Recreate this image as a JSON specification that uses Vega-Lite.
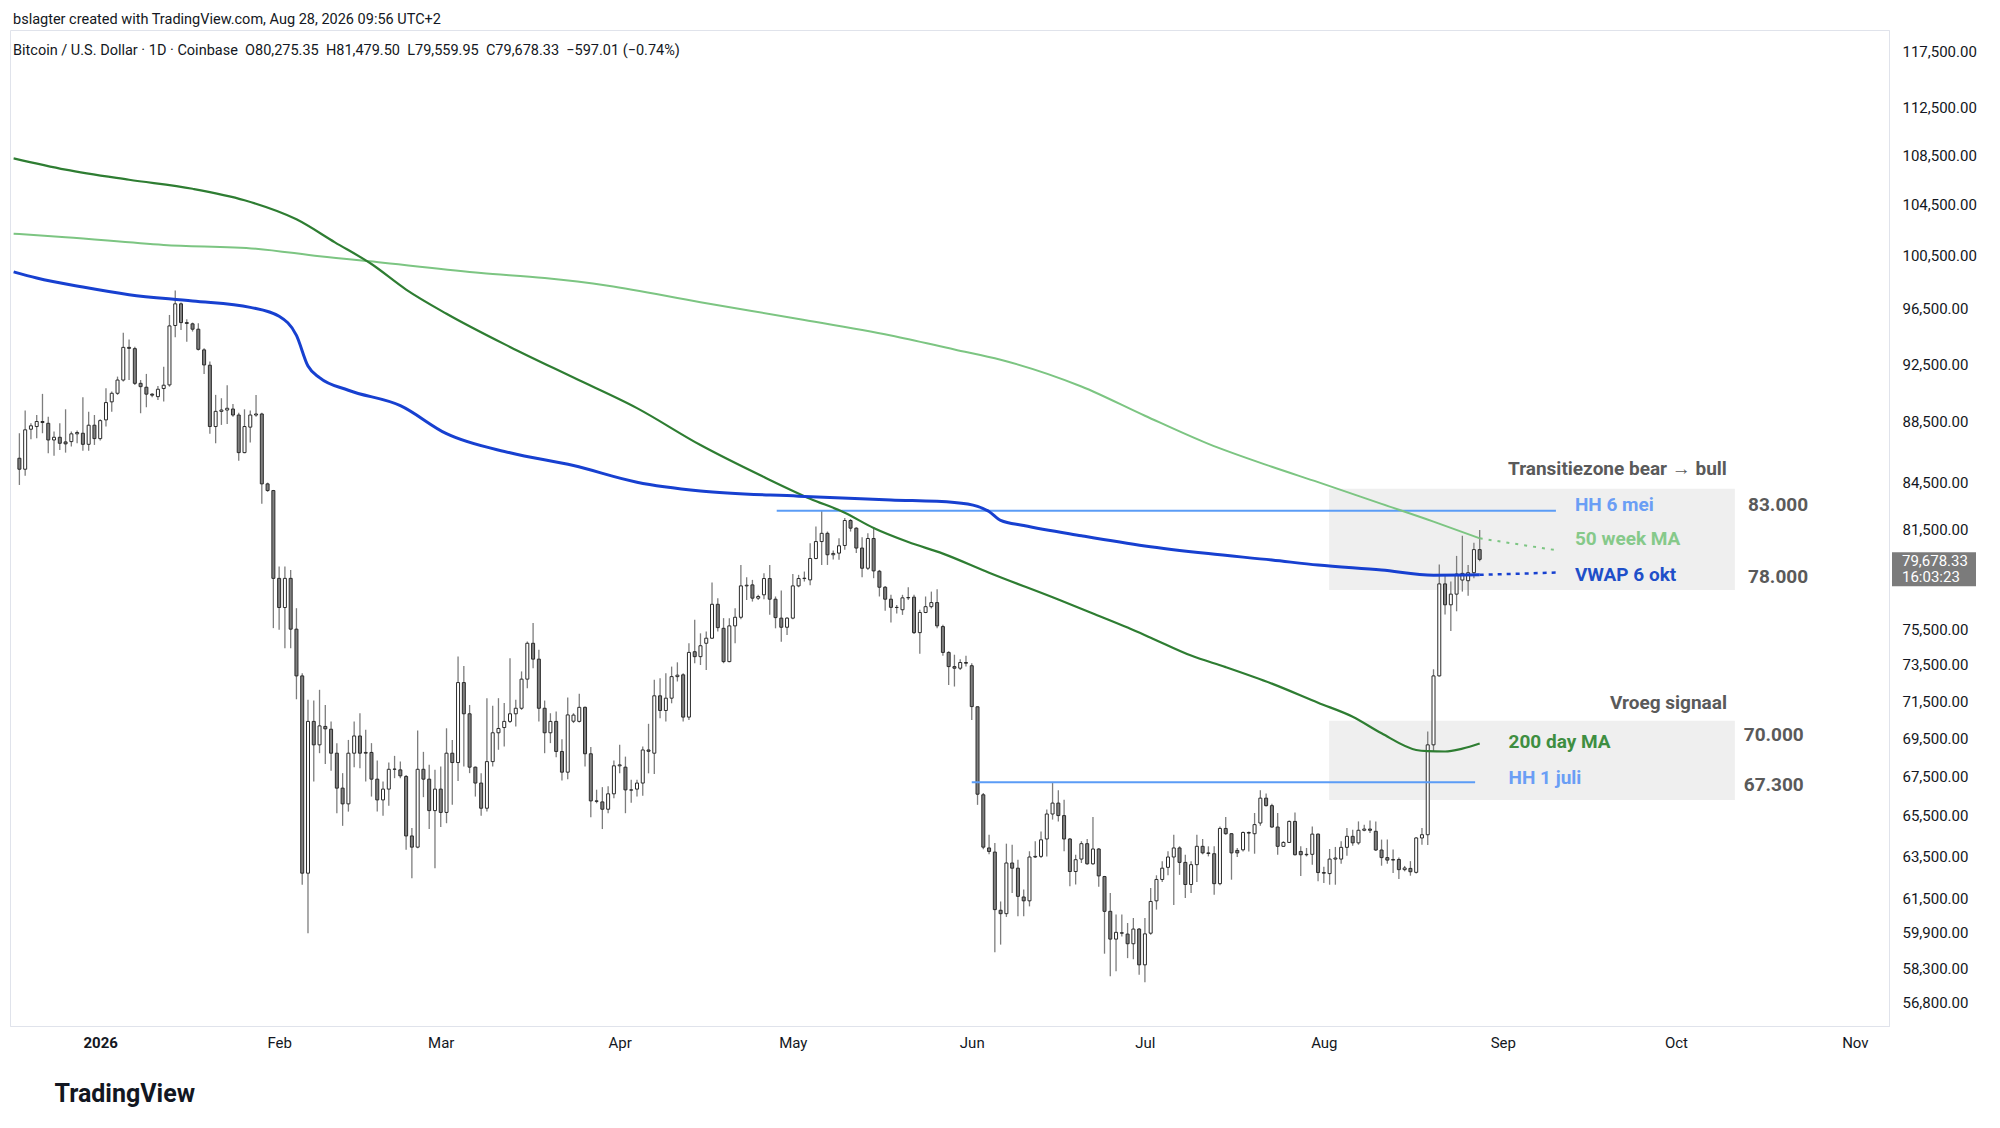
{
  "$schema": "https://vega.github.io/schema/vega-lite/v6.json",
  "description": "Bitcoin / U.S. Dollar daily candles with 200 day MA, 50 week MA, VWAP and annotated zones",
  "width": 1879,
  "height": 996,
  "autosize": {"type": "none"},
  "padding": {"left": 10, "top": 30, "right": 111, "bottom": 102},
  "background": "white",
  "title": {
    "text": "bslagter created with TradingView.com, Aug 28, 2026 09:56 UTC+2",
    "subtitle": "\u00a0\u00a0Bitcoin / U.S. Dollar · 1D · Coinbase\u00a0\u00a0O80,275.35\u00a0\u00a0H81,479.50\u00a0\u00a0L79,559.95\u00a0\u00a0C79,678.33\u00a0\u00a0−597.01 (−0.74%)",
    "anchor": "start",
    "frame": "group",
    "offset": -28,
    "dx": 3,
    "font": "Roboto",
    "fontSize": 14.5,
    "fontWeight": "normal",
    "color": "#131722",
    "subtitleFont": "Roboto",
    "subtitleFontSize": 14.5,
    "subtitleColor": "#131722",
    "subtitlePadding": 16
  },
  "datasets": {
    "candles": [
      {"date": "2025-12-18", "open": 86080, "high": 87740, "low": 84340, "close": 85360},
      {"date": "2025-12-19", "open": 85360, "high": 89270, "low": 84930, "close": 87970},
      {"date": "2025-12-20", "open": 88010, "high": 88410, "low": 87340, "close": 88240},
      {"date": "2025-12-21", "open": 88190, "high": 88970, "low": 87410, "close": 88530},
      {"date": "2025-12-22", "open": 88530, "high": 90420, "low": 87740, "close": 88460},
      {"date": "2025-12-23", "open": 88410, "high": 88860, "low": 86410, "close": 87290},
      {"date": "2025-12-24", "open": 87290, "high": 87850, "low": 86240, "close": 87470},
      {"date": "2025-12-25", "open": 87470, "high": 88410, "low": 86620, "close": 87070},
      {"date": "2025-12-26", "open": 87160, "high": 89360, "low": 86450, "close": 87030},
      {"date": "2025-12-27", "open": 87180, "high": 87850, "low": 86850, "close": 87700},
      {"date": "2025-12-28", "open": 87700, "high": 87920, "low": 87070, "close": 87790},
      {"date": "2025-12-29", "open": 87740, "high": 90190, "low": 86580, "close": 87000},
      {"date": "2025-12-30", "open": 87000, "high": 89200, "low": 86580, "close": 88280},
      {"date": "2025-12-31", "open": 88280, "high": 88970, "low": 86960, "close": 87380},
      {"date": "2026-01-01", "open": 87380, "high": 88680, "low": 87250, "close": 88590},
      {"date": "2026-01-02", "open": 88640, "high": 90810, "low": 88190, "close": 89820},
      {"date": "2026-01-03", "open": 89870, "high": 90580, "low": 89200, "close": 90460},
      {"date": "2026-01-04", "open": 90460, "high": 91620, "low": 90350, "close": 91380},
      {"date": "2026-01-05", "open": 91380, "high": 94750, "low": 91270, "close": 93690},
      {"date": "2026-01-06", "open": 93690, "high": 94260, "low": 91380, "close": 93620},
      {"date": "2026-01-07", "open": 93600, "high": 93740, "low": 91040, "close": 91150},
      {"date": "2026-01-08", "open": 91150, "high": 91380, "low": 89090, "close": 90920},
      {"date": "2026-01-09", "open": 90880, "high": 91810, "low": 89500, "close": 90400},
      {"date": "2026-01-10", "open": 90400, "high": 90460, "low": 90190, "close": 90330},
      {"date": "2026-01-11", "open": 90230, "high": 90970, "low": 90000, "close": 90740},
      {"date": "2026-01-12", "open": 90790, "high": 92320, "low": 89890, "close": 91020},
      {"date": "2026-01-13", "open": 91040, "high": 96040, "low": 90920, "close": 95240},
      {"date": "2026-01-14", "open": 95270, "high": 97850, "low": 94420, "close": 96860},
      {"date": "2026-01-15", "open": 96860, "high": 96950, "low": 94950, "close": 95480},
      {"date": "2026-01-16", "open": 95480, "high": 95730, "low": 94100, "close": 95420},
      {"date": "2026-01-17", "open": 95390, "high": 95480, "low": 94830, "close": 95000},
      {"date": "2026-01-18", "open": 95000, "high": 95430, "low": 93460, "close": 93550},
      {"date": "2026-01-19", "open": 93510, "high": 93620, "low": 91810, "close": 92440},
      {"date": "2026-01-20", "open": 92420, "high": 92680, "low": 87700, "close": 88190},
      {"date": "2026-01-21", "open": 88190, "high": 90350, "low": 87070, "close": 89220},
      {"date": "2026-01-22", "open": 89220, "high": 90120, "low": 88300, "close": 89310},
      {"date": "2026-01-23", "open": 89310, "high": 91020, "low": 88370, "close": 89430},
      {"date": "2026-01-24", "open": 89380, "high": 89730, "low": 88860, "close": 88970},
      {"date": "2026-01-25", "open": 88970, "high": 89130, "low": 85910, "close": 86450},
      {"date": "2026-01-26", "open": 86450, "high": 89360, "low": 86410, "close": 88190},
      {"date": "2026-01-27", "open": 88150, "high": 89270, "low": 87120, "close": 88970},
      {"date": "2026-01-28", "open": 88970, "high": 90350, "low": 88860, "close": 89040},
      {"date": "2026-01-29", "open": 89040, "high": 89130, "low": 83130, "close": 84410},
      {"date": "2026-01-30", "open": 84410, "high": 84490, "low": 83900, "close": 83980},
      {"date": "2026-01-31", "open": 83980, "high": 84020, "low": 75600, "close": 78530},
      {"date": "2026-02-01", "open": 78530, "high": 79240, "low": 75500, "close": 76800},
      {"date": "2026-02-02", "open": 76800, "high": 79240, "low": 74440, "close": 78530},
      {"date": "2026-02-03", "open": 78530, "high": 79040, "low": 74440, "close": 75540},
      {"date": "2026-02-04", "open": 75540, "high": 76760, "low": 71600, "close": 72890},
      {"date": "2026-02-05", "open": 72890, "high": 73040, "low": 62140, "close": 62690},
      {"date": "2026-02-06", "open": 62690, "high": 71570, "low": 59880, "close": 70400},
      {"date": "2026-02-07", "open": 70400, "high": 71530, "low": 67240, "close": 69150},
      {"date": "2026-02-08", "open": 69150, "high": 72120, "low": 68710, "close": 70160},
      {"date": "2026-02-09", "open": 70130, "high": 71290, "low": 68150, "close": 70000},
      {"date": "2026-02-10", "open": 69980, "high": 70400, "low": 67800, "close": 68710},
      {"date": "2026-02-11", "open": 68710, "high": 69240, "low": 65630, "close": 66900},
      {"date": "2026-02-12", "open": 66900, "high": 67670, "low": 65000, "close": 66100},
      {"date": "2026-02-13", "open": 66100, "high": 69410, "low": 65710, "close": 68710},
      {"date": "2026-02-14", "open": 68710, "high": 70400, "low": 67980, "close": 69620},
      {"date": "2026-02-15", "open": 69620, "high": 70840, "low": 67930, "close": 68710},
      {"date": "2026-02-16", "open": 68710, "high": 69950, "low": 67240, "close": 68750},
      {"date": "2026-02-17", "open": 68750, "high": 69240, "low": 66470, "close": 67360},
      {"date": "2026-02-18", "open": 67360, "high": 68330, "low": 65710, "close": 66300},
      {"date": "2026-02-19", "open": 66300, "high": 67240, "low": 65500, "close": 66850},
      {"date": "2026-02-20", "open": 66850, "high": 68220, "low": 66000, "close": 67870},
      {"date": "2026-02-21", "open": 67870, "high": 68570, "low": 67410, "close": 67880},
      {"date": "2026-02-22", "open": 67840, "high": 68270, "low": 67410, "close": 67530},
      {"date": "2026-02-23", "open": 67500, "high": 67580, "low": 63820, "close": 64500},
      {"date": "2026-02-24", "open": 64500, "high": 64890, "low": 62450, "close": 63950},
      {"date": "2026-02-25", "open": 63950, "high": 69910, "low": 63900, "close": 67870},
      {"date": "2026-02-26", "open": 67870, "high": 68780, "low": 66440, "close": 67360},
      {"date": "2026-02-27", "open": 67360, "high": 68100, "low": 64840, "close": 65760},
      {"date": "2026-02-28", "open": 65760, "high": 67840, "low": 62930, "close": 66850},
      {"date": "2026-03-01", "open": 66850, "high": 68010, "low": 64940, "close": 65670},
      {"date": "2026-03-02", "open": 65670, "high": 70030, "low": 65130, "close": 68710},
      {"date": "2026-03-03", "open": 68710, "high": 69410, "low": 66050, "close": 68220},
      {"date": "2026-03-04", "open": 68220, "high": 73980, "low": 67270, "close": 72520},
      {"date": "2026-03-05", "open": 72520, "high": 73450, "low": 68010, "close": 70810},
      {"date": "2026-03-06", "open": 70810, "high": 71290, "low": 67670, "close": 67980},
      {"date": "2026-03-07", "open": 67980, "high": 68010, "low": 66470, "close": 67160},
      {"date": "2026-03-08", "open": 67160, "high": 67670, "low": 65500, "close": 65880},
      {"date": "2026-03-09", "open": 65880, "high": 71660, "low": 65710, "close": 68270},
      {"date": "2026-03-10", "open": 68270, "high": 71240, "low": 68010, "close": 69790},
      {"date": "2026-03-11", "open": 69790, "high": 71660, "low": 68890, "close": 70020},
      {"date": "2026-03-12", "open": 70070, "high": 71390, "low": 69060, "close": 70400},
      {"date": "2026-03-13", "open": 70400, "high": 73880, "low": 70310, "close": 70810},
      {"date": "2026-03-14", "open": 70810, "high": 71570, "low": 70130, "close": 71110},
      {"date": "2026-03-15", "open": 71110, "high": 73140, "low": 71020, "close": 72710},
      {"date": "2026-03-16", "open": 72710, "high": 74830, "low": 72210, "close": 74730},
      {"date": "2026-03-17", "open": 74730, "high": 75890, "low": 73320, "close": 73830},
      {"date": "2026-03-18", "open": 73830, "high": 74360, "low": 70400, "close": 71110},
      {"date": "2026-03-19", "open": 71110, "high": 71530, "low": 68710, "close": 69790},
      {"date": "2026-03-20", "open": 69790, "high": 70840, "low": 69240, "close": 70400},
      {"date": "2026-03-21", "open": 70400, "high": 70930, "low": 68500, "close": 68800},
      {"date": "2026-03-22", "open": 68800, "high": 69440, "low": 67290, "close": 67720},
      {"date": "2026-03-23", "open": 67720, "high": 71700, "low": 67360, "close": 70750},
      {"date": "2026-03-24", "open": 70410, "high": 70840, "low": 70310, "close": 70740},
      {"date": "2026-03-25", "open": 70400, "high": 71900, "low": 70340, "close": 71160},
      {"date": "2026-03-26", "open": 71160, "high": 71200, "low": 68010, "close": 68680},
      {"date": "2026-03-27", "open": 68680, "high": 69030, "low": 65430, "close": 66250},
      {"date": "2026-03-28", "open": 66250, "high": 66820, "low": 66130, "close": 66230},
      {"date": "2026-03-29", "open": 66200, "high": 66950, "low": 64840, "close": 65830},
      {"date": "2026-03-30", "open": 65830, "high": 66990, "low": 65630, "close": 66610},
      {"date": "2026-03-31", "open": 66610, "high": 68330, "low": 66390, "close": 68050},
      {"date": "2026-04-01", "open": 68050, "high": 69150, "low": 67670, "close": 68100},
      {"date": "2026-04-02", "open": 67980, "high": 68530, "low": 65630, "close": 66810},
      {"date": "2026-04-03", "open": 66810, "high": 67330, "low": 66160, "close": 66800},
      {"date": "2026-04-04", "open": 66850, "high": 67330, "low": 66470, "close": 67160},
      {"date": "2026-04-05", "open": 67160, "high": 69060, "low": 66510, "close": 68880},
      {"date": "2026-04-06", "open": 68880, "high": 70270, "low": 67660, "close": 68810},
      {"date": "2026-04-07", "open": 68710, "high": 72670, "low": 67620, "close": 71790},
      {"date": "2026-04-08", "open": 71790, "high": 72760, "low": 70570, "close": 70990},
      {"date": "2026-04-09", "open": 70990, "high": 73040, "low": 70390, "close": 71660},
      {"date": "2026-04-10", "open": 71660, "high": 73410, "low": 71380, "close": 72850},
      {"date": "2026-04-11", "open": 72850, "high": 73650, "low": 72580, "close": 72930},
      {"date": "2026-04-12", "open": 72950, "high": 73040, "low": 70390, "close": 70630},
      {"date": "2026-04-13", "open": 70630, "high": 74730, "low": 70480, "close": 74210},
      {"date": "2026-04-14", "open": 74250, "high": 76080, "low": 73600, "close": 73970},
      {"date": "2026-04-15", "open": 73970, "high": 75300, "low": 73500, "close": 74590},
      {"date": "2026-04-16", "open": 74730, "high": 75400, "low": 73220, "close": 75020},
      {"date": "2026-04-17", "open": 75020, "high": 78280, "low": 74980, "close": 76990},
      {"date": "2026-04-18", "open": 76990, "high": 77350, "low": 75400, "close": 75630},
      {"date": "2026-04-19", "open": 75590, "high": 76180, "low": 73600, "close": 73690},
      {"date": "2026-04-20", "open": 73690, "high": 76180, "low": 73650, "close": 75730},
      {"date": "2026-04-21", "open": 75730, "high": 76760, "low": 74730, "close": 76230},
      {"date": "2026-04-22", "open": 76230, "high": 79340, "low": 76120, "close": 78080},
      {"date": "2026-04-23", "open": 78080, "high": 78600, "low": 77250, "close": 78120},
      {"date": "2026-04-24", "open": 78140, "high": 78440, "low": 77150, "close": 77350},
      {"date": "2026-04-25", "open": 77350, "high": 77550, "low": 77250, "close": 77450},
      {"date": "2026-04-26", "open": 77550, "high": 78840, "low": 77290, "close": 78520},
      {"date": "2026-04-27", "open": 78520, "high": 79340, "low": 76370, "close": 77290},
      {"date": "2026-04-28", "open": 77290, "high": 77450, "low": 75590, "close": 76210},
      {"date": "2026-04-29", "open": 76180, "high": 77800, "low": 74820, "close": 75650},
      {"date": "2026-04-30", "open": 75650, "high": 76230, "low": 75210, "close": 76180},
      {"date": "2026-05-01", "open": 76180, "high": 78800, "low": 76120, "close": 78080},
      {"date": "2026-05-02", "open": 78080, "high": 78740, "low": 78000, "close": 78520},
      {"date": "2026-05-03", "open": 78520, "high": 78940, "low": 78340, "close": 78540},
      {"date": "2026-05-04", "open": 78440, "high": 80670, "low": 78120, "close": 79730},
      {"date": "2026-05-05", "open": 79730, "high": 81700, "low": 79690, "close": 80770},
      {"date": "2026-05-06", "open": 80770, "high": 82700, "low": 79340, "close": 81280},
      {"date": "2026-05-07", "open": 81280, "high": 81390, "low": 79340, "close": 79960},
      {"date": "2026-05-08", "open": 79960, "high": 80220, "low": 79670, "close": 80040},
      {"date": "2026-05-09", "open": 80060, "high": 80980, "low": 79650, "close": 80510},
      {"date": "2026-05-10", "open": 80530, "high": 82230, "low": 80260, "close": 82080},
      {"date": "2026-05-11", "open": 82080, "high": 82170, "low": 81390, "close": 81600},
      {"date": "2026-05-12", "open": 81600, "high": 81660, "low": 80060, "close": 80370},
      {"date": "2026-05-13", "open": 80370, "high": 81040, "low": 78600, "close": 79140},
      {"date": "2026-05-14", "open": 79140, "high": 81280, "low": 79040, "close": 80960},
      {"date": "2026-05-15", "open": 80960, "high": 81660, "low": 78540, "close": 78980},
      {"date": "2026-05-16", "open": 78960, "high": 79040, "low": 77450, "close": 78000},
      {"date": "2026-05-17", "open": 78000, "high": 78080, "low": 76610, "close": 77290},
      {"date": "2026-05-18", "open": 77290, "high": 77550, "low": 75920, "close": 76810},
      {"date": "2026-05-19", "open": 76810, "high": 76950, "low": 76450, "close": 76800},
      {"date": "2026-05-20", "open": 76670, "high": 77550, "low": 76370, "close": 77370},
      {"date": "2026-05-21", "open": 77370, "high": 78000, "low": 77250, "close": 77390},
      {"date": "2026-05-22", "open": 77410, "high": 77550, "low": 75260, "close": 75340},
      {"date": "2026-05-23", "open": 75340, "high": 76670, "low": 74130, "close": 76510},
      {"date": "2026-05-24", "open": 76510, "high": 77450, "low": 76470, "close": 76850},
      {"date": "2026-05-25", "open": 76850, "high": 77740, "low": 76750, "close": 77090},
      {"date": "2026-05-26", "open": 77090, "high": 77880, "low": 75590, "close": 75730},
      {"date": "2026-05-27", "open": 75690, "high": 75790, "low": 74020, "close": 74210},
      {"date": "2026-05-28", "open": 74210, "high": 74270, "low": 72390, "close": 73410},
      {"date": "2026-05-29", "open": 73410, "high": 74080, "low": 72300, "close": 73320},
      {"date": "2026-05-30", "open": 73320, "high": 73830, "low": 73220, "close": 73640},
      {"date": "2026-05-31", "open": 73640, "high": 74020, "low": 73410, "close": 73600},
      {"date": "2026-06-01", "open": 73460, "high": 73600, "low": 70480, "close": 71200},
      {"date": "2026-06-02", "open": 71190, "high": 71210, "low": 66050, "close": 66590},
      {"date": "2026-06-03", "open": 66560, "high": 66650, "low": 63850, "close": 63950},
      {"date": "2026-06-04", "open": 63910, "high": 64560, "low": 63600, "close": 63740},
      {"date": "2026-06-05", "open": 63710, "high": 64150, "low": 59010, "close": 60970},
      {"date": "2026-06-06", "open": 60940, "high": 61350, "low": 59360, "close": 60780},
      {"date": "2026-06-07", "open": 60780, "high": 64120, "low": 60630, "close": 63180},
      {"date": "2026-06-08", "open": 63180, "high": 64070, "low": 61750, "close": 62930},
      {"date": "2026-06-09", "open": 62930, "high": 63340, "low": 60660, "close": 61590},
      {"date": "2026-06-10", "open": 61560, "high": 61910, "low": 60660, "close": 61380},
      {"date": "2026-06-11", "open": 61380, "high": 63750, "low": 61120, "close": 63470},
      {"date": "2026-06-12", "open": 63470, "high": 64240, "low": 63420, "close": 63500},
      {"date": "2026-06-13", "open": 63500, "high": 64720, "low": 63420, "close": 64310},
      {"date": "2026-06-14", "open": 64350, "high": 65810, "low": 63500, "close": 65590},
      {"date": "2026-06-15", "open": 65590, "high": 67200, "low": 65310, "close": 66140},
      {"date": "2026-06-16", "open": 66140, "high": 66790, "low": 65220, "close": 65510},
      {"date": "2026-06-17", "open": 65510, "high": 66310, "low": 63750, "close": 64350},
      {"date": "2026-06-18", "open": 64350, "high": 64400, "low": 62070, "close": 62770},
      {"date": "2026-06-19", "open": 62770, "high": 63580, "low": 62150, "close": 63340},
      {"date": "2026-06-20", "open": 63370, "high": 64240, "low": 63180, "close": 64120},
      {"date": "2026-06-21", "open": 64120, "high": 64350, "low": 63100, "close": 63140},
      {"date": "2026-06-22", "open": 63140, "high": 65440, "low": 63100, "close": 63860},
      {"date": "2026-06-23", "open": 63860, "high": 63910, "low": 62040, "close": 62560},
      {"date": "2026-06-24", "open": 62530, "high": 62560, "low": 58950, "close": 60890},
      {"date": "2026-06-25", "open": 60890, "high": 61750, "low": 57940, "close": 59610},
      {"date": "2026-06-26", "open": 59610, "high": 60740, "low": 58160, "close": 59920},
      {"date": "2026-06-27", "open": 59900, "high": 60740, "low": 59730, "close": 59880},
      {"date": "2026-06-28", "open": 59840, "high": 60350, "low": 58750, "close": 59400},
      {"date": "2026-06-29", "open": 59400, "high": 60580, "low": 58700, "close": 60070},
      {"date": "2026-06-30", "open": 60070, "high": 60120, "low": 58010, "close": 58450},
      {"date": "2026-07-01", "open": 58450, "high": 60580, "low": 57680, "close": 59850},
      {"date": "2026-07-02", "open": 59880, "high": 61990, "low": 59810, "close": 61350},
      {"date": "2026-07-03", "open": 61380, "high": 62590, "low": 60970, "close": 62390},
      {"date": "2026-07-04", "open": 62390, "high": 63260, "low": 62270, "close": 62930},
      {"date": "2026-07-05", "open": 62970, "high": 63750, "low": 62590, "close": 63470},
      {"date": "2026-07-06", "open": 63470, "high": 64560, "low": 61190, "close": 63910},
      {"date": "2026-07-07", "open": 63910, "high": 63990, "low": 62610, "close": 63210},
      {"date": "2026-07-08", "open": 63210, "high": 63580, "low": 61510, "close": 62150},
      {"date": "2026-07-09", "open": 62150, "high": 63260, "low": 61750, "close": 63100},
      {"date": "2026-07-10", "open": 63100, "high": 64560, "low": 62270, "close": 63990},
      {"date": "2026-07-11", "open": 63990, "high": 64350, "low": 63600, "close": 63670},
      {"date": "2026-07-12", "open": 63670, "high": 63990, "low": 63500, "close": 63640},
      {"date": "2026-07-13", "open": 63630, "high": 63990, "low": 61670, "close": 62190},
      {"date": "2026-07-14", "open": 62190, "high": 64970, "low": 62110, "close": 64870},
      {"date": "2026-07-15", "open": 64870, "high": 65440, "low": 64560, "close": 64610},
      {"date": "2026-07-16", "open": 64610, "high": 64640, "low": 62380, "close": 63670},
      {"date": "2026-07-17", "open": 63790, "high": 63910, "low": 63470, "close": 63670},
      {"date": "2026-07-18", "open": 63820, "high": 64720, "low": 63740, "close": 64670},
      {"date": "2026-07-19", "open": 64670, "high": 64720, "low": 63740, "close": 64640},
      {"date": "2026-07-20", "open": 64610, "high": 65640, "low": 63630, "close": 65060},
      {"date": "2026-07-21", "open": 65140, "high": 66790, "low": 65010, "close": 66390},
      {"date": "2026-07-22", "open": 66390, "high": 66620, "low": 65970, "close": 66010},
      {"date": "2026-07-23", "open": 66010, "high": 66110, "low": 64900, "close": 64940},
      {"date": "2026-07-24", "open": 64940, "high": 65640, "low": 63580, "close": 63990},
      {"date": "2026-07-25", "open": 63990, "high": 64240, "low": 63960, "close": 64180},
      {"date": "2026-07-26", "open": 64180, "high": 65270, "low": 64150, "close": 65220},
      {"date": "2026-07-27", "open": 65220, "high": 65670, "low": 63540, "close": 63580},
      {"date": "2026-07-28", "open": 63740, "high": 63990, "low": 62560, "close": 63580},
      {"date": "2026-07-29", "open": 63580, "high": 63910, "low": 63500, "close": 63600},
      {"date": "2026-07-30", "open": 63600, "high": 64970, "low": 63100, "close": 64590},
      {"date": "2026-07-31", "open": 64590, "high": 64620, "low": 62300, "close": 62720},
      {"date": "2026-08-01", "open": 62720, "high": 63000, "low": 62220, "close": 62690},
      {"date": "2026-08-02", "open": 62670, "high": 63860, "low": 62140, "close": 63370},
      {"date": "2026-08-03", "open": 63370, "high": 63960, "low": 62140, "close": 63420},
      {"date": "2026-08-04", "open": 63370, "high": 64240, "low": 63140, "close": 63940},
      {"date": "2026-08-05", "open": 63940, "high": 64890, "low": 63530, "close": 64480},
      {"date": "2026-08-06", "open": 64480, "high": 64810, "low": 64020, "close": 64160},
      {"date": "2026-08-07", "open": 64160, "high": 65220, "low": 64070, "close": 64780},
      {"date": "2026-08-08", "open": 64780, "high": 65050, "low": 64730, "close": 64840},
      {"date": "2026-08-09", "open": 64840, "high": 65270, "low": 64650, "close": 64780},
      {"date": "2026-08-10", "open": 64730, "high": 65220, "low": 63760, "close": 63810},
      {"date": "2026-08-11", "open": 63810, "high": 64320, "low": 63050, "close": 63440},
      {"date": "2026-08-12", "open": 63440, "high": 64320, "low": 63140, "close": 63320},
      {"date": "2026-08-13", "open": 63320, "high": 63830, "low": 62700, "close": 63350},
      {"date": "2026-08-14", "open": 63350, "high": 63440, "low": 62410, "close": 62860},
      {"date": "2026-08-15", "open": 62860, "high": 63040, "low": 62780, "close": 62940},
      {"date": "2026-08-16", "open": 62920, "high": 63270, "low": 62570, "close": 62760},
      {"date": "2026-08-17", "open": 62730, "high": 64450, "low": 62680, "close": 64400},
      {"date": "2026-08-18", "open": 64400, "high": 64890, "low": 64070, "close": 64560},
      {"date": "2026-08-19", "open": 64560, "high": 69860, "low": 64050, "close": 69150},
      {"date": "2026-08-20", "open": 69150, "high": 73260, "low": 68790, "close": 72890},
      {"date": "2026-08-21", "open": 72890, "high": 79370, "low": 72850, "close": 78200},
      {"date": "2026-08-22", "open": 78200, "high": 78790, "low": 76390, "close": 76960},
      {"date": "2026-08-23", "open": 76960, "high": 78340, "low": 75430, "close": 77590},
      {"date": "2026-08-24", "open": 77590, "high": 79890, "low": 76580, "close": 78790},
      {"date": "2026-08-25", "open": 78430, "high": 81130, "low": 77740, "close": 78830},
      {"date": "2026-08-26", "open": 78390, "high": 79340, "low": 77490, "close": 78870},
      {"date": "2026-08-27", "open": 78870, "high": 80700, "low": 78530, "close": 80275.35},
      {"date": "2026-08-28", "open": 80275.35, "high": 81479.5, "low": 79559.95, "close": 79678.33}
    ],
    "ma200": [
      {"date": "2025-12-17T00:00:00Z", "value": 108250},
      {"date": "2025-12-26", "value": 107320},
      {"date": "2026-01-06", "value": 106490},
      {"date": "2026-01-17", "value": 105760},
      {"date": "2026-01-26", "value": 104840},
      {"date": "2026-02-04", "value": 103320},
      {"date": "2026-02-10T16:00:00Z", "value": 101520},
      {"date": "2026-02-17", "value": 99850},
      {"date": "2026-02-23", "value": 97920},
      {"date": "2026-03-02", "value": 96130},
      {"date": "2026-03-13", "value": 93720},
      {"date": "2026-03-24", "value": 91550},
      {"date": "2026-04-04", "value": 89440},
      {"date": "2026-04-15", "value": 86950},
      {"date": "2026-04-26", "value": 84850},
      {"date": "2026-05-04", "value": 83460},
      {"date": "2026-05-10", "value": 82570},
      {"date": "2026-05-15", "value": 81610},
      {"date": "2026-05-21", "value": 80740},
      {"date": "2026-05-27", "value": 80030},
      {"date": "2026-06-04", "value": 78870},
      {"date": "2026-06-16", "value": 77270},
      {"date": "2026-06-22", "value": 76450},
      {"date": "2026-06-28", "value": 75630},
      {"date": "2026-07-02", "value": 75050},
      {"date": "2026-07-09", "value": 74030},
      {"date": "2026-07-15", "value": 73380},
      {"date": "2026-07-23", "value": 72460},
      {"date": "2026-07-31", "value": 71410},
      {"date": "2026-08-06", "value": 70650},
      {"date": "2026-08-11", "value": 69760},
      {"date": "2026-08-17", "value": 68880},
      {"date": "2026-08-19", "value": 68820},
      {"date": "2026-08-22", "value": 68800},
      {"date": "2026-08-25", "value": 68950},
      {"date": "2026-08-28", "value": 69220}
    ],
    "ma50w": [
      {"date": "2025-12-17T00:00:00Z", "value": 102190},
      {"date": "2025-12-26", "value": 101920},
      {"date": "2026-01-12", "value": 101320},
      {"date": "2026-01-28", "value": 101030},
      {"date": "2026-02-08", "value": 100440},
      {"date": "2026-02-19", "value": 99950},
      {"date": "2026-03-08", "value": 99170},
      {"date": "2026-03-19", "value": 98790},
      {"date": "2026-03-30", "value": 98210},
      {"date": "2026-04-15", "value": 96970},
      {"date": "2026-05-02", "value": 95750},
      {"date": "2026-05-18", "value": 94550},
      {"date": "2026-05-29", "value": 93540},
      {"date": "2026-06-06", "value": 92810},
      {"date": "2026-06-20", "value": 90930},
      {"date": "2026-07-01", "value": 88920},
      {"date": "2026-07-12", "value": 87030},
      {"date": "2026-07-23", "value": 85520},
      {"date": "2026-07-31", "value": 84520},
      {"date": "2026-08-11", "value": 83130},
      {"date": "2026-08-20", "value": 82010},
      {"date": "2026-08-28", "value": 80970}
    ],
    "ma50w_proj": [
      {"date": "2026-08-28", "value": 80970},
      {"date": "2026-09-10T05:00:00Z", "value": 80240}
    ],
    "vwap": [
      {"date": "2025-12-17T00:00:00Z", "value": 99250},
      {"date": "2025-12-21", "value": 98790},
      {"date": "2025-12-29", "value": 98110},
      {"date": "2026-01-06", "value": 97540},
      {"date": "2026-01-17", "value": 97070},
      {"date": "2026-01-27", "value": 96600},
      {"date": "2026-02-01", "value": 95940},
      {"date": "2026-02-04", "value": 94550},
      {"date": "2026-02-06", "value": 92360},
      {"date": "2026-02-08", "value": 91550},
      {"date": "2026-02-13", "value": 90670},
      {"date": "2026-02-22", "value": 89610},
      {"date": "2026-03-02", "value": 87710},
      {"date": "2026-03-13", "value": 86440},
      {"date": "2026-03-24", "value": 85600},
      {"date": "2026-04-04", "value": 84520},
      {"date": "2026-04-15", "value": 83950},
      {"date": "2026-05-02", "value": 83620},
      {"date": "2026-05-18", "value": 83380},
      {"date": "2026-05-29", "value": 83220},
      {"date": "2026-06-02", "value": 82970},
      {"date": "2026-06-04", "value": 82650},
      {"date": "2026-06-06", "value": 82090},
      {"date": "2026-06-10", "value": 81770},
      {"date": "2026-06-20", "value": 81130},
      {"date": "2026-07-01", "value": 80500},
      {"date": "2026-07-12", "value": 80030},
      {"date": "2026-07-23", "value": 79640},
      {"date": "2026-07-31", "value": 79330},
      {"date": "2026-08-11", "value": 79030},
      {"date": "2026-08-20", "value": 78720},
      {"date": "2026-08-28", "value": 78740}
    ],
    "vwap_proj": [
      {"date": "2026-08-28", "value": 78740},
      {"date": "2026-09-10T05:00:00Z", "value": 78880}
    ],
    "highs": [
      {"label": "HH 6 mei", "start": "2026-04-28T05:00:00Z", "end": "2026-09-10T05:00:00Z", "price": 82700},
      {"label": "HH 1 juli", "start": "2026-06-01T00:00:00Z", "end": "2026-08-27T05:00:00Z", "price": 67200}
    ],
    "zones": [
      {"zone": "Transitiezone bear → bull", "start": "2026-08-01T22:00:00Z", "end": "2026-10-11T05:00:00Z", "low": 77840, "high": 84090},
      {"zone": "Vroeg signaal", "start": "2026-08-01T22:00:00Z", "end": "2026-10-11T05:00:00Z", "low": 66290, "high": 70430}
    ],
    "notes": [
      {"note": "Transitiezone bear → bull", "date": "2026-10-09T20:00:00Z", "price": 85380, "role": "head"},
      {"note": "Vroeg signaal", "date": "2026-10-09T20:00:00Z", "price": 71400, "role": "head"},
      {"note": "HH 6 mei", "date": "2026-09-13T12:00:00Z", "price": 83050, "role": "hh"},
      {"note": "50 week MA", "date": "2026-09-13T12:00:00Z", "price": 80930, "role": "ma50w"},
      {"note": "VWAP 6 okt", "date": "2026-09-13T12:00:00Z", "price": 78730, "role": "vwap"},
      {"note": "83.000", "date": "2026-10-13T12:00:00Z", "price": 83050, "role": "level"},
      {"note": "78.000", "date": "2026-10-13T12:00:00Z", "price": 78610, "role": "level"},
      {"note": "200 day MA", "date": "2026-09-02T00:00:00Z", "price": 69300, "role": "ma200"},
      {"note": "HH 1 juli", "date": "2026-09-02T00:00:00Z", "price": 67420, "role": "hh"},
      {"note": "70.000", "date": "2026-10-12T18:00:00Z", "price": 69670, "role": "level"},
      {"note": "67.300", "date": "2026-10-12T18:00:00Z", "price": 67060, "role": "level"}
    ],
    "last": [
      {"price": 79678.33, "countdown": "16:03:23"}
    ]
  },
  "layer": [
    {
      "data": {"name": "zones"},
      "mark": {"type": "rect", "color": "#efefef"},
      "encoding": {
        "x": {"field": "start", "type": "temporal", "scale": {"type": "utc"}},
        "x2": {"field": "end"},
        "y": {"field": "low", "type": "quantitative", "scale": {"type": "log"}},
        "y2": {"field": "high"}
      }
    },
    {
      "data": {"name": "candles"},
      "mark": {"type": "rule", "color": "#7d7d7d", "strokeWidth": 1.3},
      "encoding": {
        "x": {
          "field": "date",
          "type": "temporal",
          "scale": {
            "type": "utc",
            "nice": false,
            "domain": [
              {"year": 2025, "month": 12, "date": 17, "hours": 5, "minutes": 43, "utc": true},
              {"year": 2026, "month": 11, "date": 6, "hours": 1, "minutes": 12, "utc": true}
            ]
          },
          "axis": {
            "values": [
              {"year": 2026, "month": 1, "date": 1, "utc": true},
              {"year": 2026, "month": 2, "date": 1, "utc": true},
              {"year": 2026, "month": 3, "date": 1, "utc": true},
              {"year": 2026, "month": 4, "date": 1, "utc": true},
              {"year": 2026, "month": 5, "date": 1, "utc": true},
              {"year": 2026, "month": 6, "date": 1, "utc": true},
              {"year": 2026, "month": 7, "date": 1, "utc": true},
              {"year": 2026, "month": 8, "date": 1, "utc": true},
              {"year": 2026, "month": 9, "date": 1, "utc": true},
              {"year": 2026, "month": 10, "date": 1, "utc": true},
              {"year": 2026, "month": 11, "date": 1, "utc": true}
            ],
            "labelExpr": "utcmonth(datum.value) == 0 ? utcFormat(datum.value, '%Y') : utcFormat(datum.value, '%b')",
            "labelFontWeight": {"condition": {"test": "utcmonth(datum.value) == 0", "value": "bold"}, "value": "normal"},
            "labelFontSize": 15,
            "labelColor": "#131722",
            "labelPadding": 9,
            "labelOverlap": false,
            "labelFlush": false,
            "ticks": false,
            "domain": true,
            "domainColor": "#e0e3eb",
            "grid": false,
            "title": "TradingView",
            "titleFontSize": 25,
            "titleFontWeight": "bold",
            "titleColor": "#131722",
            "titleX": 44,
            "titleY": 67,
            "titleAlign": "left",
            "titleBaseline": "middle"
          }
        },
        "y": {
          "field": "low",
          "type": "quantitative",
          "scale": {"type": "log", "nice": false, "zero": false, "domain": [55781, 119403]},
          "axis": {
            "orient": "right",
            "values": [56800, 58300, 59900, 61500, 63500, 65500, 67500, 69500, 71500, 73500, 75500, 81500, 84500, 88500, 92500, 96500, 100500, 104500, 108500, 112500, 117500],
            "format": ",.2f",
            "labelFontSize": 15,
            "labelColor": "#131722",
            "labelPadding": 13,
            "labelOverlap": false,
            "ticks": false,
            "domain": true,
            "domainColor": "#e0e3eb",
            "grid": false,
            "title": null
          }
        },
        "y2": {"field": "high"}
      }
    },
    {
      "data": {"name": "candles"},
      "mark": {"type": "bar", "width": 3, "stroke": "#2b2b2b", "strokeWidth": 1},
      "encoding": {
        "x": {"field": "date", "type": "temporal", "scale": {"type": "utc"}},
        "y": {"field": "open", "type": "quantitative", "scale": {"type": "log"}},
        "y2": {"field": "close"},
        "color": {"condition": {"test": "datum.close >= datum.open", "value": "#ffffff"}, "value": "#808080"}
      }
    },
    {
      "data": {"name": "highs"},
      "mark": {"type": "rule", "color": "#5b9cf6", "strokeWidth": 2},
      "encoding": {
        "x": {"field": "start", "type": "temporal", "scale": {"type": "utc"}},
        "x2": {"field": "end"},
        "y": {"field": "price", "type": "quantitative", "scale": {"type": "log"}}
      }
    },
    {
      "data": {"name": "ma50w"},
      "mark": {"type": "line", "color": "#7cc582", "strokeWidth": 2, "interpolate": "monotone", "clip": true},
      "encoding": {
        "x": {"field": "date", "type": "temporal", "scale": {"type": "utc"}},
        "y": {"field": "value", "type": "quantitative", "scale": {"type": "log"}}
      }
    },
    {
      "data": {"name": "ma50w_proj"},
      "mark": {"type": "line", "color": "#7cc582", "strokeWidth": 2, "strokeDash": [3, 6]},
      "encoding": {
        "x": {"field": "date", "type": "temporal", "scale": {"type": "utc"}},
        "y": {"field": "value", "type": "quantitative", "scale": {"type": "log"}}
      }
    },
    {
      "data": {"name": "ma200"},
      "mark": {"type": "line", "color": "#2e7d32", "strokeWidth": 2.2, "interpolate": "monotone", "clip": true},
      "encoding": {
        "x": {"field": "date", "type": "temporal", "scale": {"type": "utc"}},
        "y": {"field": "value", "type": "quantitative", "scale": {"type": "log"}}
      }
    },
    {
      "data": {"name": "vwap"},
      "mark": {"type": "line", "color": "#1740d0", "strokeWidth": 3, "interpolate": "monotone", "clip": true},
      "encoding": {
        "x": {"field": "date", "type": "temporal", "scale": {"type": "utc"}},
        "y": {"field": "value", "type": "quantitative", "scale": {"type": "log"}}
      }
    },
    {
      "data": {"name": "vwap_proj"},
      "mark": {"type": "line", "color": "#1740d0", "strokeWidth": 2.5, "strokeDash": [4, 5]},
      "encoding": {
        "x": {"field": "date", "type": "temporal", "scale": {"type": "utc"}},
        "y": {"field": "value", "type": "quantitative", "scale": {"type": "log"}}
      }
    },
    {
      "data": {"name": "notes"},
      "transform": [{"filter": "datum.role != 'head'"}],
      "mark": {"type": "text", "align": "left", "baseline": "middle", "font": "Roboto", "fontSize": 19, "fontWeight": "bold"},
      "encoding": {
        "x": {"field": "date", "type": "temporal", "scale": {"type": "utc"}},
        "y": {"field": "price", "type": "quantitative", "scale": {"type": "log"}},
        "text": {"field": "note"},
        "color": {
          "field": "role",
          "type": "nominal",
          "scale": {"domain": ["hh", "ma50w", "vwap", "ma200", "level"], "range": ["#6a9ef5", "#86c98a", "#1f4fc9", "#3e8e41", "#5a5a5a"]},
          "legend": null
        }
      }
    },
    {
      "data": {"name": "notes"},
      "transform": [{"filter": "datum.role == 'head'"}],
      "mark": {"type": "text", "align": "right", "baseline": "middle", "font": "Roboto", "fontSize": 19, "fontWeight": "bold", "color": "#5a5a5a"},
      "encoding": {
        "x": {"field": "date", "type": "temporal", "scale": {"type": "utc"}},
        "y": {"field": "price", "type": "quantitative", "scale": {"type": "log"}},
        "text": {"field": "note"}
      }
    },
    {
      "data": {"name": "last"},
      "mark": {"type": "rect", "color": "#7b7b7b", "yOffset": -7, "y2Offset": 27},
      "encoding": {
        "x": {"value": {"expr": "width + 3"}},
        "x2": {"value": {"expr": "width + 87"}},
        "y": {"field": "price", "type": "quantitative", "scale": {"type": "log"}},
        "y2": {"field": "price"}
      }
    },
    {
      "data": {"name": "last"},
      "mark": {"type": "text", "align": "left", "baseline": "middle", "font": "Roboto", "fontSize": 15, "color": "#ffffff", "dy": 2},
      "encoding": {
        "x": {"value": {"expr": "width + 13"}},
        "y": {"field": "price", "type": "quantitative", "scale": {"type": "log"}},
        "text": {"field": "price", "type": "quantitative", "format": ",.2f"}
      }
    },
    {
      "data": {"name": "last"},
      "mark": {"type": "text", "align": "left", "baseline": "middle", "font": "Roboto", "fontSize": 15, "color": "#ffffff", "dy": 18},
      "encoding": {
        "x": {"value": {"expr": "width + 13"}},
        "y": {"field": "price", "type": "quantitative", "scale": {"type": "log"}},
        "text": {"field": "countdown"}
      }
    }
  ],
  "config": {
    "font": "Roboto",
    "view": {"stroke": "#e0e3eb"}
  }
}
